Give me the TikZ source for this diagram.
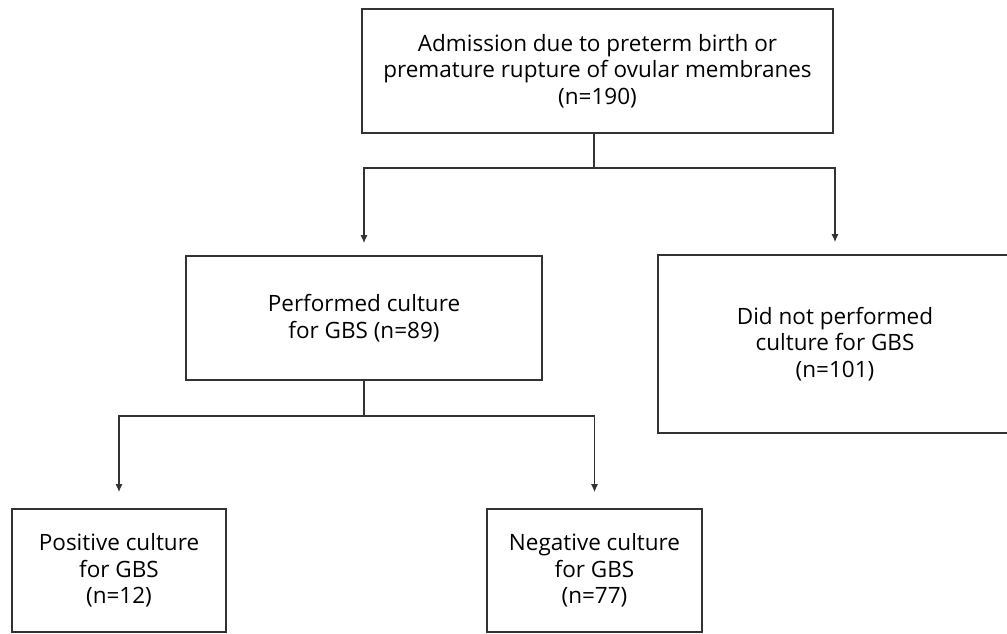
\documentclass[tikz,border=0pt]{standalone}
\usepackage{fontspec}
\setmainfont{Open Sans}
\usetikzlibrary{arrows.meta,calc}
\definecolor{linegray}{HTML}{333333}
\tikzset{
  box/.style={draw=linegray, line width=1.6pt, align=center, inner sep=0pt,
    font=\fontsize{22.5}{26.5}\selectfont, text=black},
  conn/.style={draw=linegray, line width=1.3pt},
  arr/.style={conn, -{Latex[length=8pt,width=7pt]}}
}
\begin{document}
\begin{tikzpicture}[x=1pt,y=-1pt]
\clip (0,0) rectangle (1007,633);
\fill[white] (0,0) rectangle (1007,633);
\node[box, minimum width=471pt, minimum height=124pt] (top) at (597.5,71)
  {Admission due to preterm birth or\\premature rupture of ovular membranes\\(n=190)};
\node[box, minimum width=356pt, minimum height=124pt] (mid) at (364,318)
  {Performed culture\\for GBS (n=89)};
\node[box, minimum width=354pt, minimum height=178pt] (rgt) at (835,344)
  {Did not performed\\culture for GBS\\(n=101)};
\node[box, minimum width=214pt, minimum height=123pt] (bl) at (119,570.5)
  {Positive culture\\for GBS\\(n=12)};
\node[box, minimum width=215pt, minimum height=123pt] (bm) at (594.5,570.5)
  {Negative culture\\for GBS\\(n=77)};
\coordinate (j1) at (594,168);
\coordinate (j2) at (364,416);
\draw[conn] (top.south -| j1) -- (j1);
\draw[arr, shorten >=12pt] (j1) -| (mid.north);
\draw[arr, shorten >=12pt] (j1) -| (rgt.north);
\draw[conn] (mid.south) -- (j2);
\draw[arr, shorten >=16pt] (j2) -| (bl.north);
\draw[arr, shorten >=16pt] (j2) -| (bm.north);
\end{tikzpicture}
\end{document}
